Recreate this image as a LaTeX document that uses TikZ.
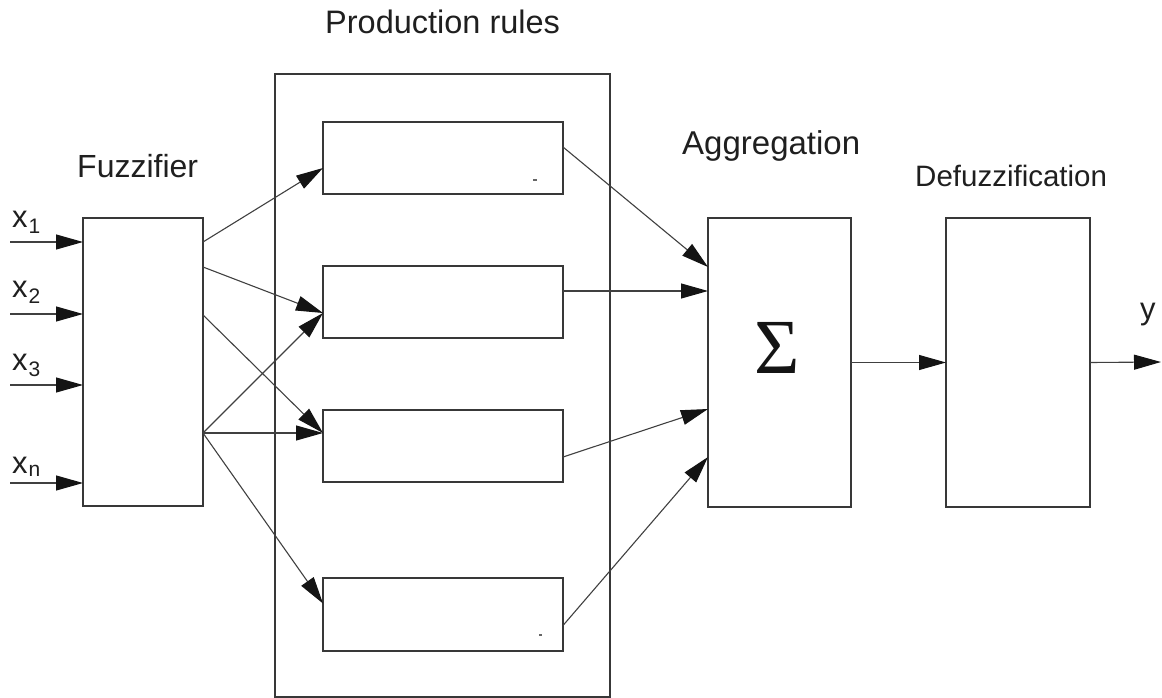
\documentclass[tikz,border=0pt]{standalone}
\usepackage{fontspec}
\setmainfont{Liberation Sans}
\newfontfamily\sigmafont{Liberation Serif}
\usetikzlibrary{arrows.meta,calc}

\newcommand{\fsz}[1]{\fontsize{#1}{#1}\selectfont}
\newcommand{\inlabel}[3]{\fsz{31}#1\kern1pt\raisebox{#3}{\fsz{21}#2}}

\begin{document}
\begin{tikzpicture}[x=1pt,y=-1pt,
  box/.style={draw=black!78,line width=1.4pt,inner sep=0pt,outer sep=0pt,anchor=north west},
  link/.style={draw=black!75,line width=1.1pt,-{Triangle[length=27pt,width=15pt,fill=black!92,color=black!92]}},
  lbl/.style={anchor=base west,inner sep=0pt,text=black!88},
]
\useasboundingbox (0,0) rectangle (1162,698);

% blocks
\node[box,minimum width=120pt,minimum height=288pt] (fuzz) at (83,218) {};
\node[box,minimum width=335pt,minimum height=623pt] (frame) at (275,74) {};
\node[box,minimum width=240pt,minimum height=72pt] (r1) at (323,122) {};
\node[box,minimum width=240pt,minimum height=72pt] (r2) at (323,266) {};
\node[box,minimum width=240pt,minimum height=72pt] (r3) at (323,410) {};
\node[box,minimum width=240pt,minimum height=73pt] (r4) at (323,578) {};
\node[box,minimum width=143pt,minimum height=289pt] (agg) at (708,218) {};
\node[box,minimum width=144pt,minimum height=289pt] (defz) at (946,218) {};

% small specks inside the first and last rule boxes
\fill[black!60] (533,179) rectangle (537,181);
\fill[black!60] (539,634) rectangle (542,636);

% titles
\node[lbl] (tprod) at (325,34) {\fsz{32.5}Production rules};
\node[lbl] (tfuzz) at (77,177) {\fsz{32}Fuzzifier};
\node[lbl] (tagg) at (682,155) {\fsz{33}Aggregation};
\node[lbl] (tdef) at (915,186) {\fsz{29.5}Defuzzification};
\node[anchor=base,inner sep=0pt,text=black!92] (sig) at (777,373) {\sigmafont\fsz{78}Σ};

% input labels
\node[lbl] (lx1) at (12,227) {\inlabel{x}{1}{-6pt}};
\node[lbl] (lx2) at (12,297) {\inlabel{x}{2}{-6pt}};
\node[lbl] (lx3) at (12,370) {\inlabel{x}{3}{-6pt}};
\node[lbl] (lxn) at (12,473) {\inlabel{x}{n}{-3pt}};
\node[lbl] (ly) at (1140,319) {\fsz{31}y};

% free ends of the input and output lines
\coordinate (i1) at (10,242);
\coordinate (i2) at (10,314);
\coordinate (i3) at (10,385);
\coordinate (in) at (10,483);
\coordinate (out) at (1161,362);

% inputs
\draw[link] (i1) -- ($(fuzz.north west)+(0,24)$);
\draw[link] (i2) -- ($(fuzz.north west)+(0,96)$);
\draw[link] (i3) -- ($(fuzz.north west)+(0,167)$);
\draw[link] (in) -- ($(fuzz.north west)+(0,265)$);

% fuzzifier to rules
\draw[link] ($(fuzz.north east)+(0,24)$) -- ($(r1.west)+(0,10)$);
\draw[link] ($(fuzz.north east)+(0,49)$) -- ($(r2.west)+(0,11)$);
\draw[link] ($(fuzz.north east)+(0,97)$) -- ($(r3.west)+(0,-13)$);
\draw[link] ($(fuzz.north east)+(0,215)$) -- ($(r2.west)+(0,11)$);
\draw[link] ($(fuzz.north east)+(0,215)$) -- ($(r3.west)+(0,-13)$);
\draw[link] ($(fuzz.north east)+(0,215)$) -- ($(r4.west)+(0,-11)$);

% rules to aggregation
\draw[link] ($(r1.east)+(0,-11)$) -- ($(agg.north west)+(0,49)$);
\draw[link] ($(r2.east)+(0,-11)$) -- ($(agg.north west)+(0,73)$);
\draw[link] ($(r3.east)+(0,11)$) -- ($(agg.north west)+(0,191)$);
\draw[link] ($(r4.east)+(0,11)$) -- ($(agg.north west)+(0,239)$);

% aggregation to defuzzification to output
\draw[link] (agg.east) -- (defz.west);
\draw[link] (defz.east) -- (out);
\end{tikzpicture}
\end{document}
